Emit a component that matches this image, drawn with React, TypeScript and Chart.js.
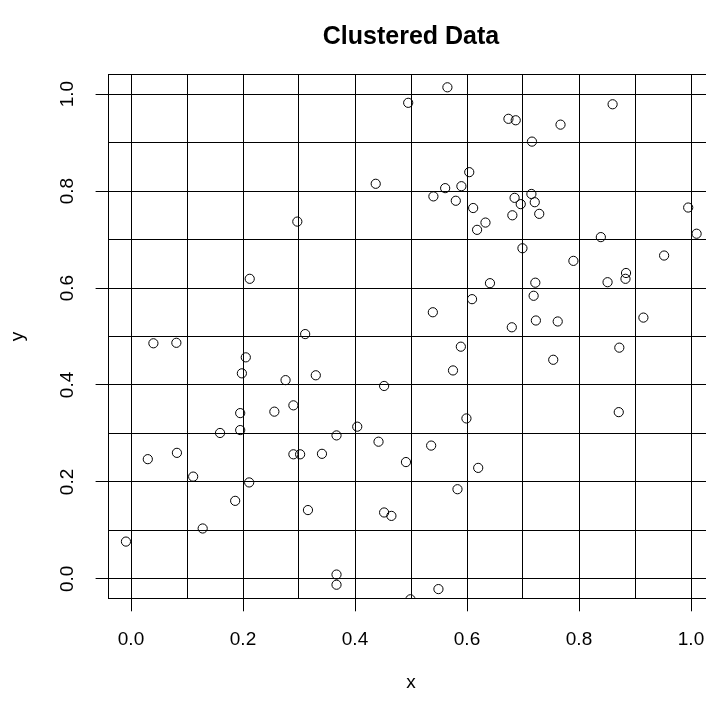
import React, { useEffect, useRef } from "react";
import { Chart, registerables } from "chart.js";

Chart.register(...registerables);

// ---- data ----
const xValues = [
  0.495, 0.437, 0.297, 0.212, 0.311, 0.565, 0.860, 0.674, 0.687, 0.767,
  0.716, 0.604, 0.561, 0.590, 0.540, 0.580, 0.685, 0.715, 0.696, 0.721,
  0.611, 0.681, 0.729, 0.633, 0.618, 0.995, 1.010, 0.839, 0.699, 0.952,
  0.790, 0.884, 0.883, 0.851, 0.641, 0.722, 0.609, 0.719, 0.539, 0.915,
  0.680, 0.723, 0.762, 0.589, 0.872, 0.754, 0.575, 0.599, 0.871, 0.536,
  0.491, 0.620, 0.583, 0.549, 0.499, 0.040, 0.081, 0.205, 0.198, 0.276,
  0.330, 0.452, 0.195, 0.256, 0.290, 0.159, 0.195, 0.367, 0.404, 0.442,
  0.290, 0.302, 0.341, 0.030, 0.082, 0.111, 0.211, 0.186, 0.316, 0.452,
  0.465, 0.128, -0.009, 0.367, 0.367,
];
const yValues = [
  0.982, 0.815, 0.737, 0.619, 0.505, 1.014, 0.979, 0.949, 0.946, 0.937,
  0.902, 0.839, 0.806, 0.810, 0.789, 0.780, 0.786, 0.794, 0.773, 0.777,
  0.765, 0.750, 0.753, 0.735, 0.720, 0.766, 0.712, 0.705, 0.682, 0.667,
  0.656, 0.631, 0.619, 0.612, 0.610, 0.611, 0.577, 0.584, 0.550, 0.539,
  0.519, 0.533, 0.531, 0.479, 0.477, 0.452, 0.430, 0.331, 0.344, 0.275,
  0.241, 0.229, 0.185, -0.021, -0.042, 0.486, 0.487, 0.457, 0.424, 0.410,
  0.420, 0.398, 0.342, 0.345, 0.358, 0.301, 0.307, 0.296, 0.314, 0.283,
  0.257, 0.257, 0.258, 0.247, 0.260, 0.211, 0.199, 0.161, 0.142, 0.137,
  0.130, 0.104, 0.077, 0.009, -0.012,
];
const gridValues = [0, 0.1, 0.2, 0.3, 0.4, 0.5, 0.6, 0.7, 0.8, 0.9, 1.0];
const labeledTicks = [0, 0.2, 0.4, 0.6, 0.8, 1.0];
const tickLabels = ["0.0", "0.2", "0.4", "0.6", "0.8", "1.0"];
const axisMin = -0.04;
const axisMax = 1.04;
const titleText = "Clustered Data";
const xTitle = "x";
const yTitle = "y";

const FONT = "'Liberation Sans', Arial, Helvetica, sans-serif";

function labelIndex(v: number): number {
  return labeledTicks.findIndex((t) => Math.abs(t - v) < 1e-6);
}

const boxPlugin = {
  id: "boxPlugin",
  afterDatasetsDraw(chart: any) {
    const { ctx, chartArea } = chart;
    ctx.save();
    ctx.strokeStyle = "#000";
    ctx.lineWidth = 1;
    const l = Math.floor(chartArea.left) + 0.5;
    const t = Math.floor(chartArea.top) + 0.5;
    const r = Math.floor(chartArea.right) + 0.5;
    const b = Math.floor(chartArea.bottom) + 0.5;
    ctx.strokeRect(l, t, r - l, b - t);
    ctx.restore();
  },
};

export default function App() {
  const ref = useRef<HTMLCanvasElement | null>(null);

  useEffect(() => {
    if (!ref.current) return;
    const points = xValues.map((x, i) => ({ x, y: yValues[i] }));
    const baseTicks = {
      autoSkip: false,
      color: "#000",
      font: { family: FONT, size: 19 },
      callback: (v: any) => {
        const i = labelIndex(Number(v));
        return i >= 0 ? tickLabels[i] : "";
      },
    };
    const scaleCommon = {
      type: "linear" as const,
      min: axisMin,
      max: axisMax,
      afterBuildTicks: (scale: any) => {
        scale.ticks = gridValues.map((v) => ({ value: v }));
      },
      grid: {
        color: "#000",
        lineWidth: 1,
        drawTicks: true,
        tickLength: 13,
        tickColor: (ctx: any) =>
          ctx.tick && labelIndex(ctx.tick.value) >= 0 ? "#000" : "rgba(0,0,0,0)",
      },
      border: { display: false },
    };

    const chart = new Chart(ref.current, {
      type: "scatter",
      data: {
        datasets: [
          {
            data: points,
            pointStyle: "circle",
            pointRadius: 4.6,
            pointHoverRadius: 4.6,
            borderWidth: 1,
            borderColor: "#000",
            backgroundColor: "rgba(0,0,0,0)",
            clip: 0,
          },
        ],
      },
      options: {
        animation: false,
        responsive: false,
        events: [],
        layout: { padding: { left: 0, top: 0, bottom: 0, right: 16.6 } },
        plugins: {
          legend: { display: false },
          tooltip: { enabled: false },
          title: {
            display: true,
            text: titleText,
            color: "#000",
            fullSize: false,
            font: { family: FONT, size: 25, weight: "bold" },
            padding: { top: 22, bottom: 22.7 },
          },
        },
        scales: {
          x: {
            ...scaleCommon,
            position: "bottom",
            afterFit: (scale: any) => {
              scale.height = 104.7;
            },
            ticks: {
              ...baseTicks,
              padding: 17,
              maxRotation: 0,
              minRotation: 0,
            },
            title: {
              display: true,
              text: xTitle,
              color: "#000",
              font: { family: FONT, size: 19 },
              padding: { top: 0, bottom: 8.6 },
            },
          },
          y: {
            ...scaleCommon,
            position: "left",
            afterFit: (scale: any) => {
              scale.width = 108.6;
            },
            ticks: {
              ...baseTicks,
              padding: 15,
              minRotation: 90,
              maxRotation: 90,
              crossAlign: "center",
            },
            title: {
              display: true,
              text: yTitle,
              color: "#000",
              font: { family: FONT, size: 19 },
              padding: { top: 6.6, bottom: 0 },
            },
          },
        },
      } as any,
      plugins: [boxPlugin],
    });
    return () => chart.destroy();
  }, []);

  return (
    <div
      style={{
        position: "absolute",
        left: 0,
        top: 0,
        width: 706,
        height: 703,
        overflow: "hidden",
        background: "#fff",
      }}
    >
      <canvas ref={ref} width={730} height={703} style={{ display: "block" }} />
    </div>
  );
}
